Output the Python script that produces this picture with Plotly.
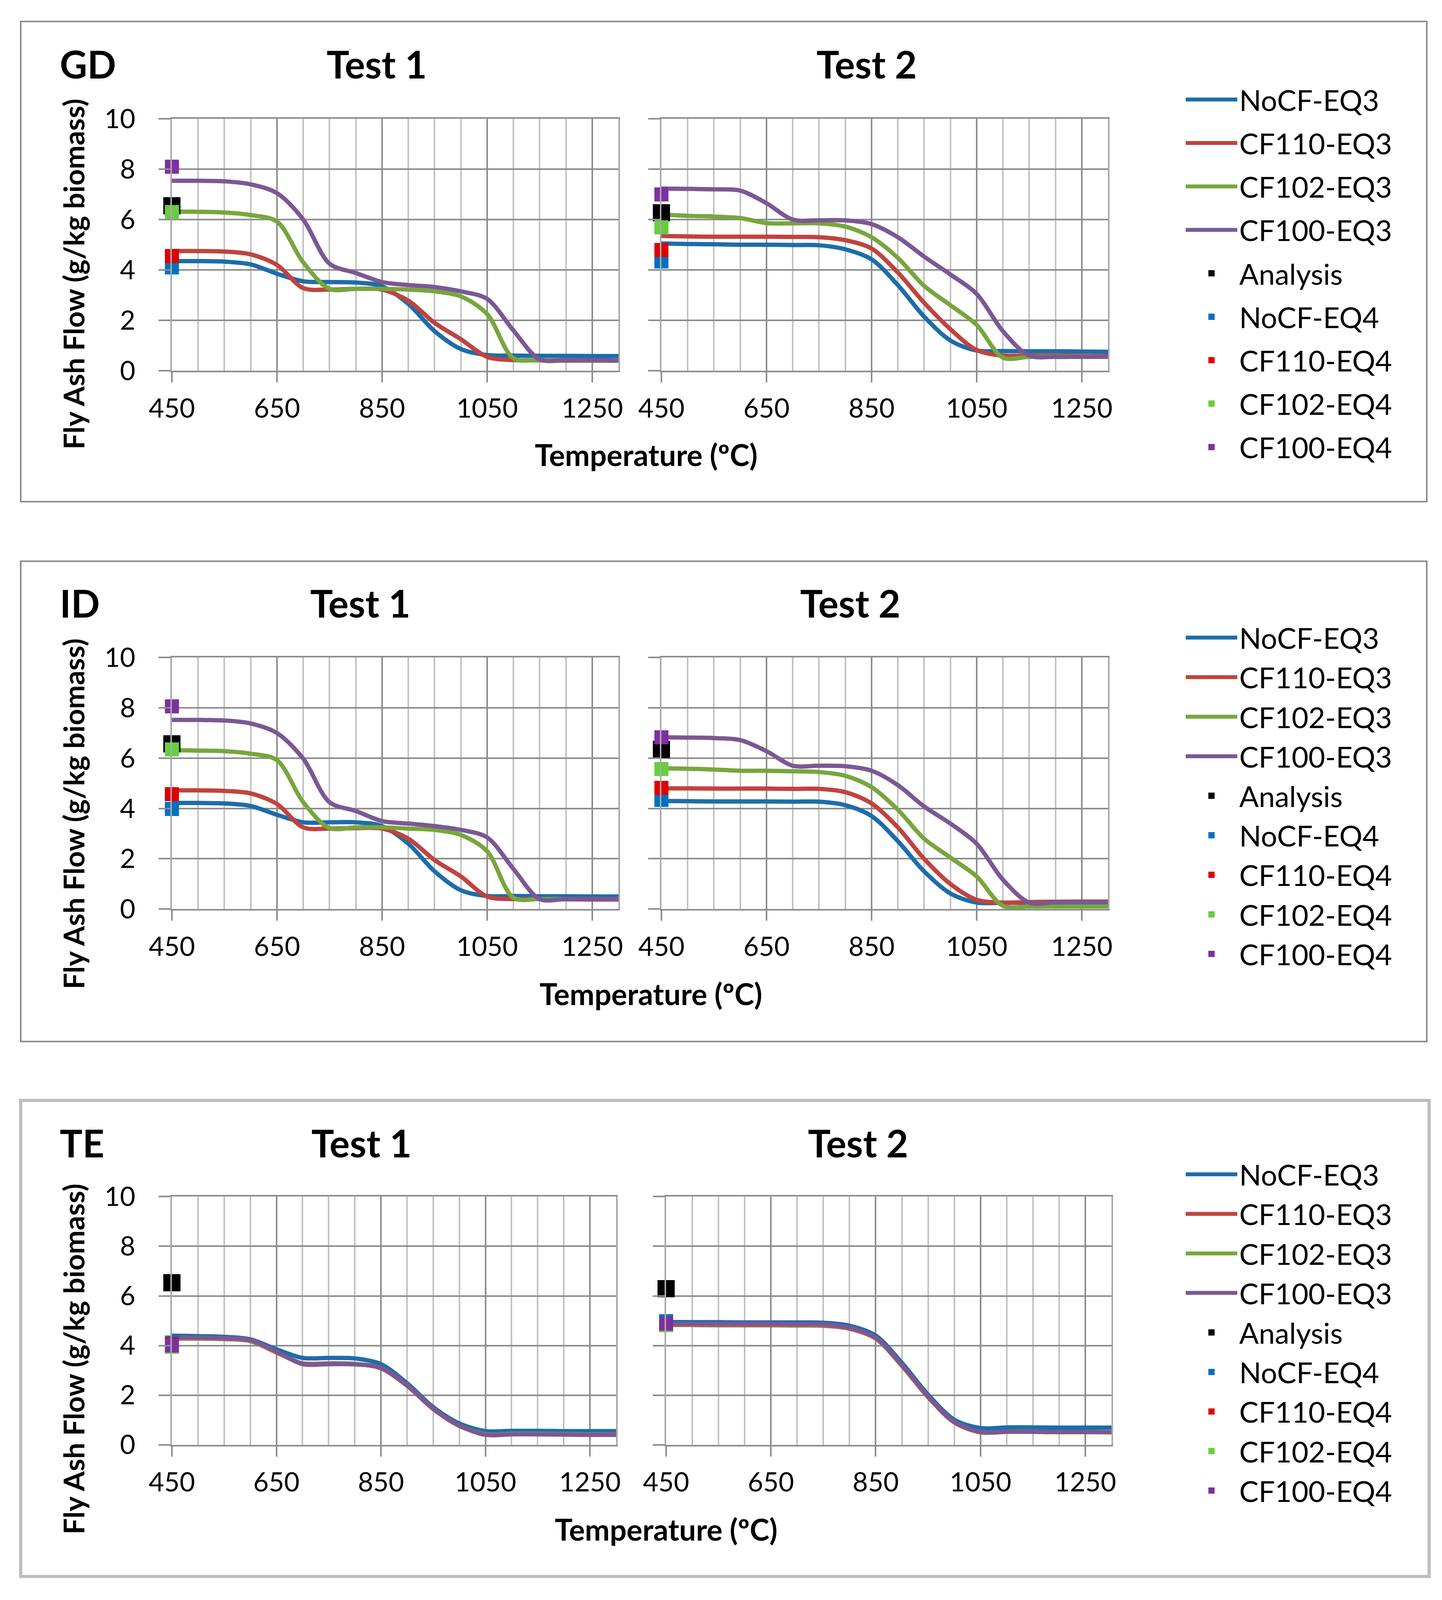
import plotly.graph_objects as go

# Reference picture is 3691 x 4660; the photographed page area is about 3691 x 4070,
# so the layout is laid out in reference pixels and compressed vertically to fit.
REF_W, REF_H = 3691, 4660
W, H = 3691, 4060
SY = H / REF_H

# ---------------- data ----------------
TEMPS = [450, 500, 550, 600, 650, 700, 750, 800, 850, 900, 950, 1000, 1050, 1100, 1150, 1200, 1250, 1300]
X_TICKS = [450, 650, 850, 1050, 1250]
Y_TICKS = [0, 2, 4, 6, 8, 10]
PANEL_LABELS = ["GD", "ID", "TE"]
TEST_LABELS = ["Test 1", "Test 2"]
LINE_NAMES = ["NoCF-EQ3", "CF110-EQ3", "CF102-EQ3", "CF100-EQ3"]
MARKER_NAMES = ["Analysis", "NoCF-EQ4", "CF110-EQ4", "CF102-EQ4", "CF100-EQ4"]
X_TITLE = "Temperature (ºC)"
Y_TITLE = "Fly Ash Flow (g/kg biomass)"

# GD, Test 1
GD_T1_NOCF = [4.35, 4.35, 4.33, 4.22, 3.85, 3.55, 3.52, 3.50, 3.35, 2.65, 1.57, 0.86, 0.62, 0.60, 0.59, 0.59, 0.58, 0.58]
GD_T1_CF110 = [4.75, 4.75, 4.73, 4.62, 4.20, 3.28, 3.22, 3.25, 3.22, 2.78, 1.90, 1.25, 0.55, 0.42, 0.41, 0.40, 0.40, 0.40]
GD_T1_CF102 = [6.32, 6.31, 6.28, 6.18, 5.92, 4.30, 3.25, 3.25, 3.25, 3.22, 3.15, 2.95, 2.25, 0.50, 0.42, 0.42, 0.41, 0.40]
GD_T1_CF100 = [7.54, 7.54, 7.52, 7.40, 7.05, 6.00, 4.25, 3.88, 3.52, 3.40, 3.32, 3.15, 2.85, 1.60, 0.45, 0.42, 0.42, 0.40]
GD_T1_MARKERS = [6.55, 4.10, 4.55, 6.30, 8.10]

# GD, Test 2
GD_T2_NOCF = [5.05, 5.03, 5.02, 5.00, 5.00, 4.99, 4.98, 4.82, 4.42, 3.40, 2.15, 1.20, 0.80, 0.78, 0.77, 0.77, 0.76, 0.75]
GD_T2_CF110 = [5.35, 5.33, 5.32, 5.32, 5.32, 5.31, 5.30, 5.18, 4.85, 3.90, 2.70, 1.65, 0.82, 0.60, 0.60, 0.60, 0.59, 0.58]
GD_T2_CF102 = [6.20, 6.15, 6.12, 6.06, 5.86, 5.85, 5.85, 5.72, 5.30, 4.48, 3.37, 2.60, 1.82, 0.52, 0.55, 0.56, 0.56, 0.55]
GD_T2_CF100 = [7.23, 7.22, 7.20, 7.15, 6.65, 6.00, 5.97, 5.97, 5.82, 5.30, 4.53, 3.82, 3.05, 1.57, 0.60, 0.55, 0.55, 0.55]
GD_T2_MARKERS = [6.27, 4.34, 4.79, 5.69, 7.00]

# ID, Test 1
ID_T1_NOCF = [4.22, 4.22, 4.20, 4.10, 3.75, 3.45, 3.45, 3.45, 3.30, 2.60, 1.50, 0.75, 0.52, 0.52, 0.51, 0.51, 0.50, 0.50]
ID_T1_CF110 = [4.72, 4.72, 4.70, 4.60, 4.18, 3.25, 3.20, 3.22, 3.20, 2.80, 1.95, 1.30, 0.50, 0.40, 0.40, 0.39, 0.38, 0.38]
ID_T1_CF102 = [6.32, 6.30, 6.28, 6.18, 5.92, 4.25, 3.22, 3.25, 3.25, 3.20, 3.15, 2.95, 2.30, 0.45, 0.40, 0.40, 0.40, 0.40]
ID_T1_CF100 = [7.52, 7.52, 7.50, 7.38, 7.00, 5.98, 4.25, 3.90, 3.50, 3.40, 3.30, 3.15, 2.85, 1.60, 0.40, 0.40, 0.40, 0.40]
ID_T1_MARKERS = [6.57, 3.98, 4.57, 6.35, 8.06]

# ID, Test 2
ID_T2_NOCF = [4.30, 4.29, 4.28, 4.28, 4.28, 4.27, 4.27, 4.13, 3.70, 2.70, 1.50, 0.62, 0.26, 0.25, 0.25, 0.25, 0.25, 0.25]
ID_T2_CF110 = [4.80, 4.80, 4.79, 4.79, 4.79, 4.78, 4.78, 4.65, 4.20, 3.25, 2.00, 1.00, 0.37, 0.26, 0.28, 0.29, 0.30, 0.30]
ID_T2_CF102 = [5.60, 5.58, 5.55, 5.50, 5.50, 5.48, 5.45, 5.30, 4.85, 3.95, 2.80, 2.05, 1.30, 0.13, 0.10, 0.10, 0.10, 0.10]
ID_T2_CF100 = [6.83, 6.82, 6.80, 6.72, 6.28, 5.70, 5.70, 5.68, 5.50, 4.93, 4.08, 3.40, 2.60, 1.17, 0.26, 0.27, 0.28, 0.28]
ID_T2_MARKERS = [6.35, 4.34, 4.82, 5.57, 6.83]

# TE, Test 1
TE_T1_NOCF = [4.40, 4.38, 4.35, 4.25, 3.85, 3.50, 3.50, 3.48, 3.25, 2.48, 1.52, 0.86, 0.55, 0.56, 0.56, 0.55, 0.55, 0.55]
TE_T1_CF110 = [4.28, 4.28, 4.26, 4.18, 3.72, 3.28, 3.28, 3.26, 3.08, 2.38, 1.44, 0.76, 0.43, 0.44, 0.44, 0.43, 0.42, 0.42]
TE_T1_CF102 = [4.30, 4.30, 4.28, 4.20, 3.74, 3.26, 3.26, 3.25, 3.10, 2.40, 1.46, 0.78, 0.42, 0.44, 0.44, 0.43, 0.42, 0.41]
TE_T1_CF100 = [4.32, 4.32, 4.30, 4.22, 3.76, 3.25, 3.25, 3.24, 3.10, 2.40, 1.46, 0.78, 0.40, 0.42, 0.42, 0.41, 0.40, 0.40]
TE_T1_MARKERS = [6.53, 4.12, 4.05, 3.95, 4.00]

# TE, Test 2
TE_T2_NOCF = [4.95, 4.94, 4.94, 4.93, 4.93, 4.93, 4.92, 4.80, 4.40, 3.30, 2.02, 1.01, 0.67, 0.70, 0.70, 0.69, 0.69, 0.69]
TE_T2_CF110 = [4.83, 4.83, 4.82, 4.82, 4.82, 4.81, 4.80, 4.68, 4.28, 3.18, 1.92, 0.90, 0.50, 0.52, 0.52, 0.51, 0.51, 0.50]
TE_T2_CF102 = [4.86, 4.86, 4.85, 4.85, 4.85, 4.84, 4.83, 4.71, 4.30, 3.20, 1.94, 0.92, 0.51, 0.52, 0.52, 0.51, 0.51, 0.50]
TE_T2_CF100 = [4.88, 4.88, 4.87, 4.87, 4.87, 4.86, 4.85, 4.72, 4.32, 3.22, 1.95, 0.93, 0.52, 0.53, 0.53, 0.52, 0.52, 0.51]
TE_T2_MARKERS = [6.29, 4.98, 4.85, 4.82, 4.88]

PANEL_DATA = [
    [[GD_T1_NOCF, GD_T1_CF110, GD_T1_CF102, GD_T1_CF100], [GD_T2_NOCF, GD_T2_CF110, GD_T2_CF102, GD_T2_CF100]],
    [[ID_T1_NOCF, ID_T1_CF110, ID_T1_CF102, ID_T1_CF100], [ID_T2_NOCF, ID_T2_CF110, ID_T2_CF102, ID_T2_CF100]],
    [[TE_T1_NOCF, TE_T1_CF110, TE_T1_CF102, TE_T1_CF100], [TE_T2_NOCF, TE_T2_CF110, TE_T2_CF102, TE_T2_CF100]],
]
PANEL_MARKERS = [
    [GD_T1_MARKERS, GD_T2_MARKERS],
    [ID_T1_MARKERS, ID_T2_MARKERS],
    [TE_T1_MARKERS, TE_T2_MARKERS],
]

# ---------------- styles ----------------
LINE_COLORS = ["#1C6DAB", "#C0433F", "#77A63D", "#7B5894"]
MARKER_COLORS = ["#000000", "#0070C0", "#E00000", "#66CF3E", "#7F2FA0"]
MARKER_SIZES = [44, 36, 36, 36, 36]
FONT = "Lato"
MAJOR_GRID = "#8C8C8C"
MINOR_GRID = "#C2C2C2"
TICK_FONT = 68
TITLE_FONT = 97
XTITLE_FONT = 76
YTITLE_FONT = 73
LEGEND_FONT = 74

# geometry in reference pixels (from the top-left of the reference picture)
GEO = [
    dict(box=(45, 54, 3644, 1465), box_color="#8C8C8C", box_w=4,
         py=(340, 1080), px=[(432, 1575), (1685, 2828)],
         label=(143, 179), tests=[(956, 179), (2210, 179)],
         xtitle=(1646, 1326), ytitle=(180, 796), legend_first=292, gap=12),
    dict(box=(45, 1640, 3644, 3051), box_color="#8C8C8C", box_w=4,
         py=(1923, 2662), px=[(432, 1575), (1685, 2828)],
         label=(143, 1762), tests=[(914, 1762), (2168, 1762)],
         xtitle=(1658, 2910), ytitle=(180, 2382), legend_first=1873, gap=2),
    dict(box=(45, 3224, 3650, 4623), box_color="#BDBDBD", box_w=8,
         py=(3507, 4236), px=[(432, 1569), (1697, 2837)],
         label=(143, 3349), tests=[(917, 3349), (2188, 3349)],
         xtitle=(1697, 4484), ytitle=(180, 3984), legend_first=3450, gap=2),
]

def xp(v):
    return v / REF_W

def yp(v):
    return 1 - v / REF_H

fig = go.Figure()
layout = dict(
    width=W, height=H, autosize=False,
    margin=dict(l=0, r=0, t=0, b=0, pad=0, autoexpand=False),
    paper_bgcolor="white", plot_bgcolor="white",
    font=dict(family=FONT, color="black"),
    showlegend=True,
    annotations=[], shapes=[],
)

legend_keys = ["legend", "legend2", "legend3"]

for p in range(3):
    g = GEO[p]
    leg = legend_keys[p]
    for t in range(2):
        k = p * 2 + t + 1
        xa = "x" if k == 1 else f"x{k}"
        ya = "y" if k == 1 else f"y{k}"
        for i, name in enumerate(LINE_NAMES):
            fig.add_trace(go.Scatter(
                x=TEMPS, y=PANEL_DATA[p][t][i], mode="lines", name=name,
                line=dict(color=LINE_COLORS[i], width=11, shape="spline", smoothing=0.9),
                xaxis=xa, yaxis=ya, legend=leg,
                legendgroup=f"{PANEL_LABELS[p]}-{name}", showlegend=(t == 0),
            ))
        for i, name in enumerate(MARKER_NAMES):
            fig.add_trace(go.Scatter(
                x=[TEMPS[0]], y=[PANEL_MARKERS[p][t][i]], mode="markers", name=name,
                marker=dict(symbol="square", size=MARKER_SIZES[i], color=MARKER_COLORS[i], line=dict(width=0)),
                cliponaxis=False, xaxis=xa, yaxis=ya, legend=leg,
                legendgroup=f"{PANEL_LABELS[p]}-{name}", showlegend=(t == 0),
            ))
        x0, x1 = g["px"][t]
        y0, y1 = g["py"]
        xkey = "xaxis" if k == 1 else f"xaxis{k}"
        ykey = "yaxis" if k == 1 else f"yaxis{k}"
        layout[xkey] = dict(
            domain=[xp(x0), xp(x1)], anchor=ya, range=[TEMPS[0], TEMPS[-1]],
            tickmode="array", tickvals=X_TICKS, ticktext=[str(v) for v in X_TICKS],
            ticks="outside", ticklen=26, tickwidth=4, tickcolor=MAJOR_GRID,
            showgrid=True, gridcolor=MAJOR_GRID, gridwidth=4,
            minor=dict(tickmode="array", tickvals=TEMPS, showgrid=True, gridcolor=MINOR_GRID, gridwidth=4, ticks=""),
            showline=True, linecolor=MAJOR_GRID, linewidth=4, mirror=True,
            zeroline=False, tickfont=dict(family=FONT, size=TICK_FONT, color="black"),
            ticklabelstandoff=8, fixedrange=True, automargin=False,
        )
        layout[ykey] = dict(
            domain=[yp(y1), yp(y0)], anchor=xa, range=[0, 10],
            tickmode="array", tickvals=Y_TICKS, ticktext=[str(v) for v in Y_TICKS],
            ticks="outside", ticklen=30, tickwidth=4, tickcolor=MAJOR_GRID,
            showgrid=True, gridcolor=MAJOR_GRID, gridwidth=4,
            showline=True, linecolor="#A8A8A8", linewidth=4, mirror=True,
            zeroline=False, showticklabels=(t == 0),
            tickfont=dict(family=FONT, size=TICK_FONT, color="black"),
            ticklabelstandoff=46, fixedrange=True, automargin=False,
        )
        tx, ty = g["tests"][t]
        layout["annotations"].append(dict(
            text=TEST_LABELS[t], x=xp(tx), y=yp(ty), xref="paper", yref="paper",
            xanchor="center", yanchor="middle", showarrow=False,
            font=dict(family=FONT, size=TITLE_FONT, weight="bold", color="black"),
        ))
    # panel label
    lx, ly = g["label"]
    layout["annotations"].append(dict(
        text=PANEL_LABELS[p], x=xp(lx), y=yp(ly), xref="paper", yref="paper",
        xanchor="left", yanchor="middle", showarrow=False,
        font=dict(family=FONT, size=TITLE_FONT, weight="bold", color="black"),
    ))
    # axis titles
    ax_, ay_ = g["xtitle"]
    layout["annotations"].append(dict(
        text=X_TITLE, x=xp(ax_), y=yp(ay_), xref="paper", yref="paper",
        xanchor="center", yanchor="middle", showarrow=False,
        font=dict(family=FONT, size=XTITLE_FONT, weight="bold", color="black"),
    ))
    bx, by = g["ytitle"]
    layout["annotations"].append(dict(
        text=Y_TITLE, x=xp(bx), y=yp(by), xref="paper", yref="paper",
        xanchor="center", yanchor="middle", showarrow=False, textangle=-90,
        font=dict(family=FONT, size=YTITLE_FONT, weight="bold", color="black"),
    ))
    # panel frame
    b = g["box"]
    layout["shapes"].append(dict(
        type="rect", xref="paper", yref="paper",
        x0=xp(b[0]), x1=xp(b[2]), y0=yp(b[3]), y1=yp(b[1]),
        line=dict(color=g["box_color"], width=g["box_w"]), fillcolor="rgba(0,0,0,0)", layer="below",
    ))
    legend_top_page = g["legend_first"] * SY - 0.84 * LEGEND_FONT
    layout[leg] = dict(
        x=xp(3022), y=1 - legend_top_page / H, xanchor="left", yanchor="top",
        font=dict(family=FONT, size=LEGEND_FONT, color="black"),
        itemwidth=132, tracegroupgap=g["gap"], traceorder="grouped",
        bgcolor="rgba(0,0,0,0)", borderwidth=0, itemsizing="trace",
    )

fig.update_layout(**layout)
fig.write_html("out.html", include_plotlyjs=True, full_html=True,
               config={"responsive": False, "displayModeBar": False})
